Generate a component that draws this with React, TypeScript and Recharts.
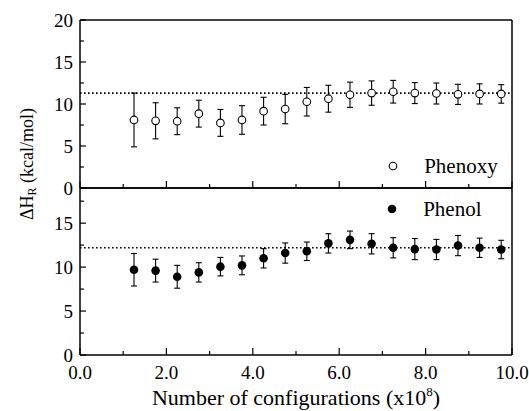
import React from 'react';
import { ScatterChart, Scatter, XAxis, YAxis, ErrorBar, ReferenceLine, Legend } from 'recharts';

// ---- data ----
const configs = [1.25, 1.75, 2.25, 2.75, 3.25, 3.75, 4.25, 4.75, 5.25, 5.75, 6.25, 6.75, 7.25, 7.75, 8.25, 8.75, 9.25, 9.75];
const phenoxyHR = [8.1, 8.0, 7.95, 8.85, 7.75, 8.1, 9.15, 9.4, 10.27, 10.63, 11.1, 11.3, 11.46, 11.3, 11.25, 11.15, 11.2, 11.2];
const phenoxyErr = [3.2, 2.15, 1.6, 1.6, 1.6, 1.7, 1.65, 1.75, 1.7, 1.6, 1.5, 1.45, 1.35, 1.25, 1.25, 1.2, 1.2, 1.1];
const phenolHR = [9.7, 9.6, 8.9, 9.4, 10.05, 10.2, 11.0, 11.6, 11.8, 12.7, 13.1, 12.65, 12.2, 12.05, 12.0, 12.45, 12.2, 12.0];
const phenolErr = [1.85, 1.3, 1.3, 1.1, 1.05, 1.07, 1.1, 1.15, 1.05, 1.1, 1.0, 1.15, 1.15, 1.2, 1.15, 1.15, 1.1, 1.05];
const phenoxyAvg = 11.3;
const phenolAvg = 12.2;
const xTicks = [0, 1, 2, 3, 4, 5, 6, 7, 8, 9, 10];
const xLabelTicks = [0, 2, 4, 6, 8, 10];
const yTicksTop = [0, 2.5, 5, 7.5, 10, 12.5, 15, 17.5, 20];
const yTicksBottom = [0, 2.5, 5, 7.5, 10, 12.5, 15, 17.5];
const yLabelTicks = [0, 5, 10, 15, 20];
const seriesNames = ['Phenoxy', 'Phenol'];

const phenoxyData = configs.map((x, i) => ({ x, y: phenoxyHR[i], err: phenoxyErr[i] }));
const phenolData = configs.map((x, i) => ({ x, y: phenolHR[i], err: phenolErr[i] }));

const FONT = '"Liberation Serif", monospace';
const AXIS_LINE = { stroke: '#000', strokeWidth: 1.5 };
const TXT: React.CSSProperties = { fontFamily: FONT };
const FONT_CSS = `#root .chartbox, #root .chartbox *, #root .chartbox text, #root .chartbox tspan, #root .chartbox div, #root .chartbox span { font-family: "Liberation Serif", monospace !important; }`;

function XTick(props: any) {
  const { x, y, payload, side, showLabel } = props;
  const v = payload.value;
  const major = xLabelTicks.includes(v);
  const len = major ? 7 : 4;
  const dir = side === 'bottom' ? -1 : 1;
  return (
    <g>
      <line x1={x} y1={y} x2={x} y2={y + dir * len} stroke="#000" strokeWidth={1.2} />
      {showLabel && major ? (
        <text x={x} y={y + 24} textAnchor="middle" fontSize={19} style={TXT} fill="#000">
          {v.toFixed(1)}
        </text>
      ) : null}
    </g>
  );
}

function YTick(props: any) {
  const { x, y, payload, side } = props;
  const v = payload.value;
  const major = yLabelTicks.includes(v);
  const len = major ? 6 : 4;
  const dir = side === 'left' ? 1 : -1;
  return (
    <g>
      <line x1={x} y1={y} x2={x + dir * len} y2={y} stroke="#000" strokeWidth={1.2} />
      {side === 'left' && major ? (
        <text x={x - 7} y={y + 6.5} textAnchor="end" fontSize={19} style={TXT} fill="#000">
          {String(v)}
        </text>
      ) : null}
    </g>
  );
}

function XTitle(props: any) {
  const vb = props.viewBox || { x: 80, y: 355, width: 432, height: 50 };
  return (
    <text x={vb.x + vb.width / 2} y={vb.y + 50} textAnchor="middle" fontSize={22} style={TXT} fill="#000">
      Number of configurations (x10
      <tspan dy={-9} fontSize={13}>8</tspan>
      <tspan dy={9}>)</tspan>
    </text>
  );
}

function YTitle(props: any) {
  const vb = props.viewBox || { x: 0, y: 20, width: 80, height: 168 };
  const cx = vb.x + 27;
  const cy = vb.y + 144;
  return (
    <text transform={`translate(${cx},${cy}) rotate(-90)`} x={0} y={0} textAnchor="middle" dominantBaseline="central" fontSize={18} style={TXT} fill="#000">
      ΔH
      <tspan dy={5} fontSize={12}>R</tspan>
      <tspan dy={-5}> (kcal/mol)</tspan>
    </text>
  );
}

function legendContent(name: string, filled: boolean) {
  return () => (
    <div style={{ display: 'flex', alignItems: 'center', fontFamily: FONT, fontSize: 21, lineHeight: '24px', color: '#000', whiteSpace: 'nowrap' }}>
      <svg width={10} height={10} style={{ display: 'block' }}>
        {filled ? (
          <circle cx={5} cy={5} r={4.3} fill="#000" />
        ) : (
          <circle cx={5} cy={5} r={3.8} fill="#fff" stroke="#000" strokeWidth={1.1} />
        )}
      </svg>
      <span style={{ marginLeft: 26.5 }}>{name}</span>
    </div>
  );
}

const OpenCircle = (p: any) => <circle cx={p.cx} cy={p.cy} r={3.8} fill="#fff" stroke="#000" strokeWidth={1.1} />;
const FilledCircle = (p: any) => <circle cx={p.cx} cy={p.cy} r={4.3} fill="#000" />;

export default function App() {
  return (
    <div className="chartbox" style={{ position: 'absolute', left: 0, top: 0, width: 529, height: 411, background: '#fff', fontFamily: FONT }}>
      <style>{FONT_CSS}</style>
      <div style={{ position: 'absolute', left: 0, top: 0 }}>
        <ScatterChart width={529} height={230} margin={{ top: 10, right: 7, bottom: 32, left: 0 }}>
          <XAxis xAxisId="b" type="number" dataKey="x" domain={[0, 10]} ticks={xTicks} interval={0}
            orientation="bottom" height={10} tickSize={0} tickMargin={0} tickLine={false} axisLine={AXIS_LINE}
            tick={(p: any) => <XTick {...p} side="bottom" showLabel={false} />} />
          <XAxis xAxisId="t" type="number" dataKey="x" domain={[0, 10]} ticks={xTicks} interval={0}
            orientation="top" height={10} tickSize={0} tickMargin={0} tickLine={false} axisLine={AXIS_LINE}
            tick={(p: any) => <XTick {...p} side="top" />} />
          <YAxis yAxisId="l" type="number" dataKey="y" domain={[0, 20]} ticks={yTicksTop} interval={0}
            orientation="left" width={80} tickSize={0} tickMargin={0} tickLine={false} axisLine={AXIS_LINE}
            tick={(p: any) => <YTick {...p} side="left" />} label={YTitle} />
          <YAxis yAxisId="r" type="number" dataKey="y" domain={[0, 20]} ticks={yTicksTop} interval={0}
            orientation="right" width={10} tickSize={0} tickMargin={0} tickLine={false} axisLine={AXIS_LINE}
            tick={(p: any) => <YTick {...p} side="right" />} />
          <ReferenceLine xAxisId="b" yAxisId="l" y={phenoxyAvg} stroke="#000" strokeWidth={1.6} strokeDasharray="1.6 2.4" />
          <Scatter xAxisId="b" yAxisId="l" name={seriesNames[0]} data={phenoxyData} shape={OpenCircle} isAnimationActive={false}>
            <ErrorBar dataKey="err" direction="y" width={3} stroke="#000" strokeWidth={1.1} isAnimationActive={false} />
          </Scatter>
          <Legend layout="horizontal" verticalAlign="middle" align="center"
            wrapperStyle={{ position: 'absolute', left: 387.7, top: 154, width: 140, height: 24 }}
            content={legendContent(seriesNames[0], false)} />
        </ScatterChart>
      </div>
      <div style={{ position: 'absolute', left: 0, top: 170 }}>
        <ScatterChart width={529} height={241} margin={{ top: 8, right: 7, bottom: 6, left: 0 }}>
          <XAxis xAxisId="b" type="number" dataKey="x" domain={[0, 10]} ticks={xTicks} interval={0}
            orientation="bottom" height={50} tickSize={0} tickMargin={0} tickLine={false} axisLine={AXIS_LINE}
            tick={(p: any) => <XTick {...p} side="bottom" showLabel />} label={XTitle} />
          <XAxis xAxisId="t" type="number" dataKey="x" domain={[0, 10]} ticks={xTicks} interval={0}
            orientation="top" height={10} tickSize={0} tickMargin={0} tickLine={false} axisLine={AXIS_LINE}
            tick={(p: any) => <XTick {...p} side="top" />} />
          <YAxis yAxisId="l" type="number" dataKey="y" domain={[0, 19]} ticks={yTicksBottom} interval={0}
            orientation="left" width={80} tickSize={0} tickMargin={0} tickLine={false} axisLine={AXIS_LINE}
            tick={(p: any) => <YTick {...p} side="left" />} />
          <YAxis yAxisId="r" type="number" dataKey="y" domain={[0, 19]} ticks={yTicksBottom} interval={0}
            orientation="right" width={10} tickSize={0} tickMargin={0} tickLine={false} axisLine={AXIS_LINE}
            tick={(p: any) => <YTick {...p} side="right" />} />
          <ReferenceLine xAxisId="b" yAxisId="l" y={phenolAvg} stroke="#000" strokeWidth={1.6} strokeDasharray="1.6 2.4" />
          <Scatter xAxisId="b" yAxisId="l" name={seriesNames[1]} data={phenolData} shape={FilledCircle} isAnimationActive={false}>
            <ErrorBar dataKey="err" direction="y" width={3} stroke="#000" strokeWidth={1.1} isAnimationActive={false} />
          </Scatter>
          <Legend layout="horizontal" verticalAlign="middle" align="center"
            wrapperStyle={{ position: 'absolute', left: 386.7, top: 27, width: 140, height: 24 }}
            content={legendContent(seriesNames[1], true)} />
        </ScatterChart>
      </div>
    </div>
  );
}
